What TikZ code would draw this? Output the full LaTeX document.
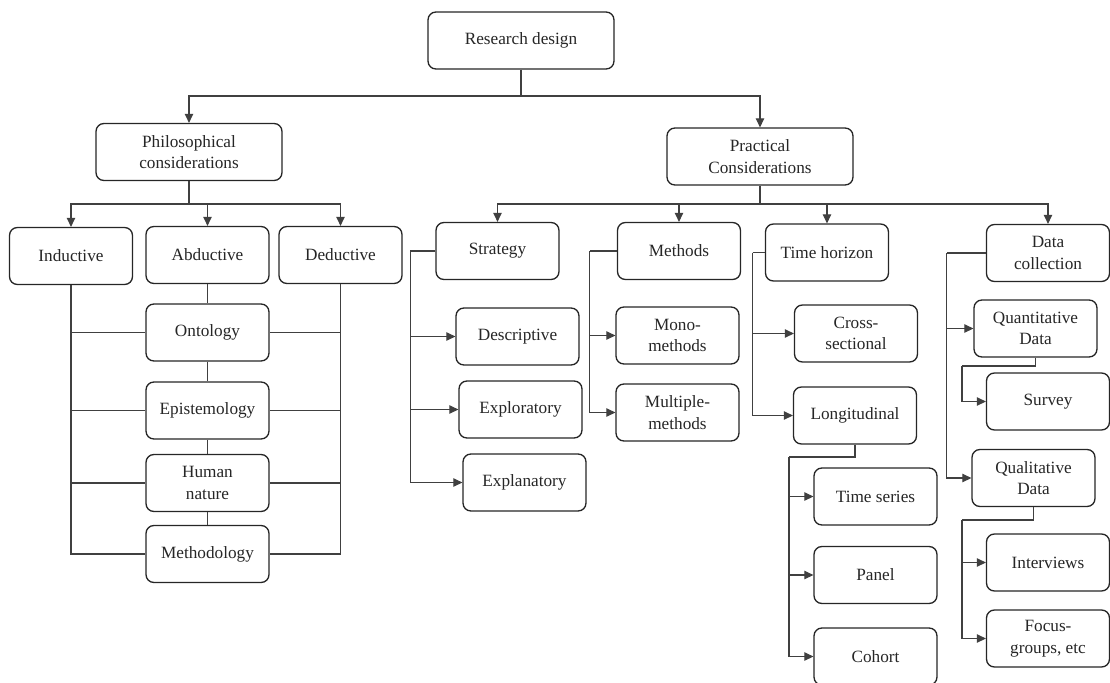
\documentclass[tikz,border=0pt]{standalone}
\usepackage{fontspec}
\setmainfont{Liberation Serif}
\usetikzlibrary{arrows.meta}

\begin{document}
\begin{tikzpicture}[
  x=0.02cm, y=-0.02cm,
  every node/.style={font=\fontsize{9.8}{12.3}\selectfont, text=black!85},
  box/.style={
    draw=black!85,
    line width=0.75pt,
    rounded corners=4.5pt,
    fill=white,
    minimum width=2.46cm,
    minimum height=1.14cm,
    inner sep=2pt,
    align=center
  },
  bigbox/.style={box, minimum width=3.72cm},
  link/.style={draw=black!75, line width=0.6pt},
  arr/.style={link, -{Triangle[length=0.18cm,width=0.17cm]}}
]
\useasboundingbox (0,0) rectangle (1110,683);

% Top levels
\node[bigbox] (design) at (521,40.5) {Research design};
\node[bigbox] (philo) at (189,152) {Philosophical\\considerations};
\node[bigbox] (practical) at (760,156.5) {Practical\\Considerations};

% Philosophical branch
\node[box] (induct) at (71,256) {Inductive};
\node[box] (abduct) at (207.5,255) {Abductive};
\node[box] (deduct) at (340.5,255) {Deductive};

\node[box] (ontol) at (207.5,332.5) {Ontology};
\node[box] (epist) at (207.5,410.5) {Epistemology};
\node[box] (human) at (207.5,483) {Human\\nature};
\node[box] (methdlg) at (207.5,554) {Methodology};

% Practical branch
\node[box] (strategy) at (497.5,251) {Strategy};
\node[box] (descr) at (517.5,336.5) {Descriptive};
\node[box] (explor) at (520.5,409.5) {Exploratory};
\node[box] (explan) at (524.5,482.5) {Explanatory};

\node[box] (methods) at (679,251) {Methods};
\node[box] (mono) at (677.5,335.5) {Mono-\\methods};
\node[box] (multi) at (677.5,412.5) {Multiple-\\methods};

\node[box] (timeh) at (827,252.5) {Time horizon};
\node[box] (cross) at (856,333.5) {Cross-\\sectional};
\node[box] (longit) at (855,415.5) {Longitudinal};
\node[box] (tseries) at (875.5,496.5) {Time series};
\node[box] (panel) at (875.5,575) {Panel};
\node[box] (cohort) at (875.5,656.5) {Cohort};

\node[box] (datacol) at (1048,253) {Data\\collection};
\node[box] (quant) at (1035.5,328.5) {Quantitative\\Data};
\node[box] (survey) at (1048,401.5) {Survey};
\node[box] (qual) at (1033.5,478) {Qualitative\\Data};
\node[box] (interv) at (1048,562.5) {Interviews};
\node[box] (focus) at (1048,638.5) {Focus-\\groups, etc};

% Junction points
\coordinate (rdbus) at (521,96);
\coordinate (phbus) at (189,204);
\coordinate (prbus) at (760,204);
\coordinate (longj) at (789,457);
\coordinate (quantj) at (962,366);
\coordinate (qualj) at (962,520);

% Tree links
\draw[link] (design) -- (rdbus);
\draw[arr] (rdbus) -| (philo);
\draw[arr] (rdbus) -| (practical);

\draw[link] (philo) -- (phbus);
\draw[arr] (phbus) -| (induct);
\draw[arr] (phbus) -| (abduct);
\draw[arr] (phbus) -| (deduct);

\draw[link] (practical) -- (prbus);
\draw[arr] (prbus) -| (strategy);
\draw[arr] (prbus) -| (methods);
\draw[arr] (prbus) -| (timeh);
\draw[arr] (prbus) -| (datacol);

% Philosophical ladder
\draw[link] (abduct) -- (ontol) -- (epist) -- (human) -- (methdlg);
\draw[link] (induct) |- (methdlg);
\draw[link] (deduct) |- (methdlg);
\foreach \n in {ontol,epist,human}{
  \draw[link] (induct |- \n) -- (\n);
  \draw[link] (deduct |- \n) -- (\n);
}

% Side branches
\draw[link] (strategy.west) -- ++(-25,0) coordinate (stratj);
\foreach \n in {descr,explor,explan}
  \draw[arr] (stratj) |- (\n);

\draw[link] (methods.west) -- ++(-27,0) coordinate (methj);
\foreach \n in {mono,multi}
  \draw[arr] (methj) |- (\n);

\draw[link] (timeh.west) -- ++(-12,0) coordinate (timej);
\foreach \n in {cross,longit}
  \draw[arr] (timej) |- (\n);

\draw[link] (longit.south) |- (longj);
\foreach \n in {tseries,panel,cohort}
  \draw[arr] (longj) |- (\n);

\draw[link] (datacol.west) -- ++(-39,0) coordinate (dataj);
\foreach \n in {quant,qual}
  \draw[arr] (dataj) |- (\n);

\draw[link] (quant.south) |- (quantj);
\draw[arr] (quantj) |- (survey);

\draw[link] (qual.south) |- (qualj);
\foreach \n in {interv,focus}
  \draw[arr] (qualj) |- (\n);

\end{tikzpicture}
\end{document}
